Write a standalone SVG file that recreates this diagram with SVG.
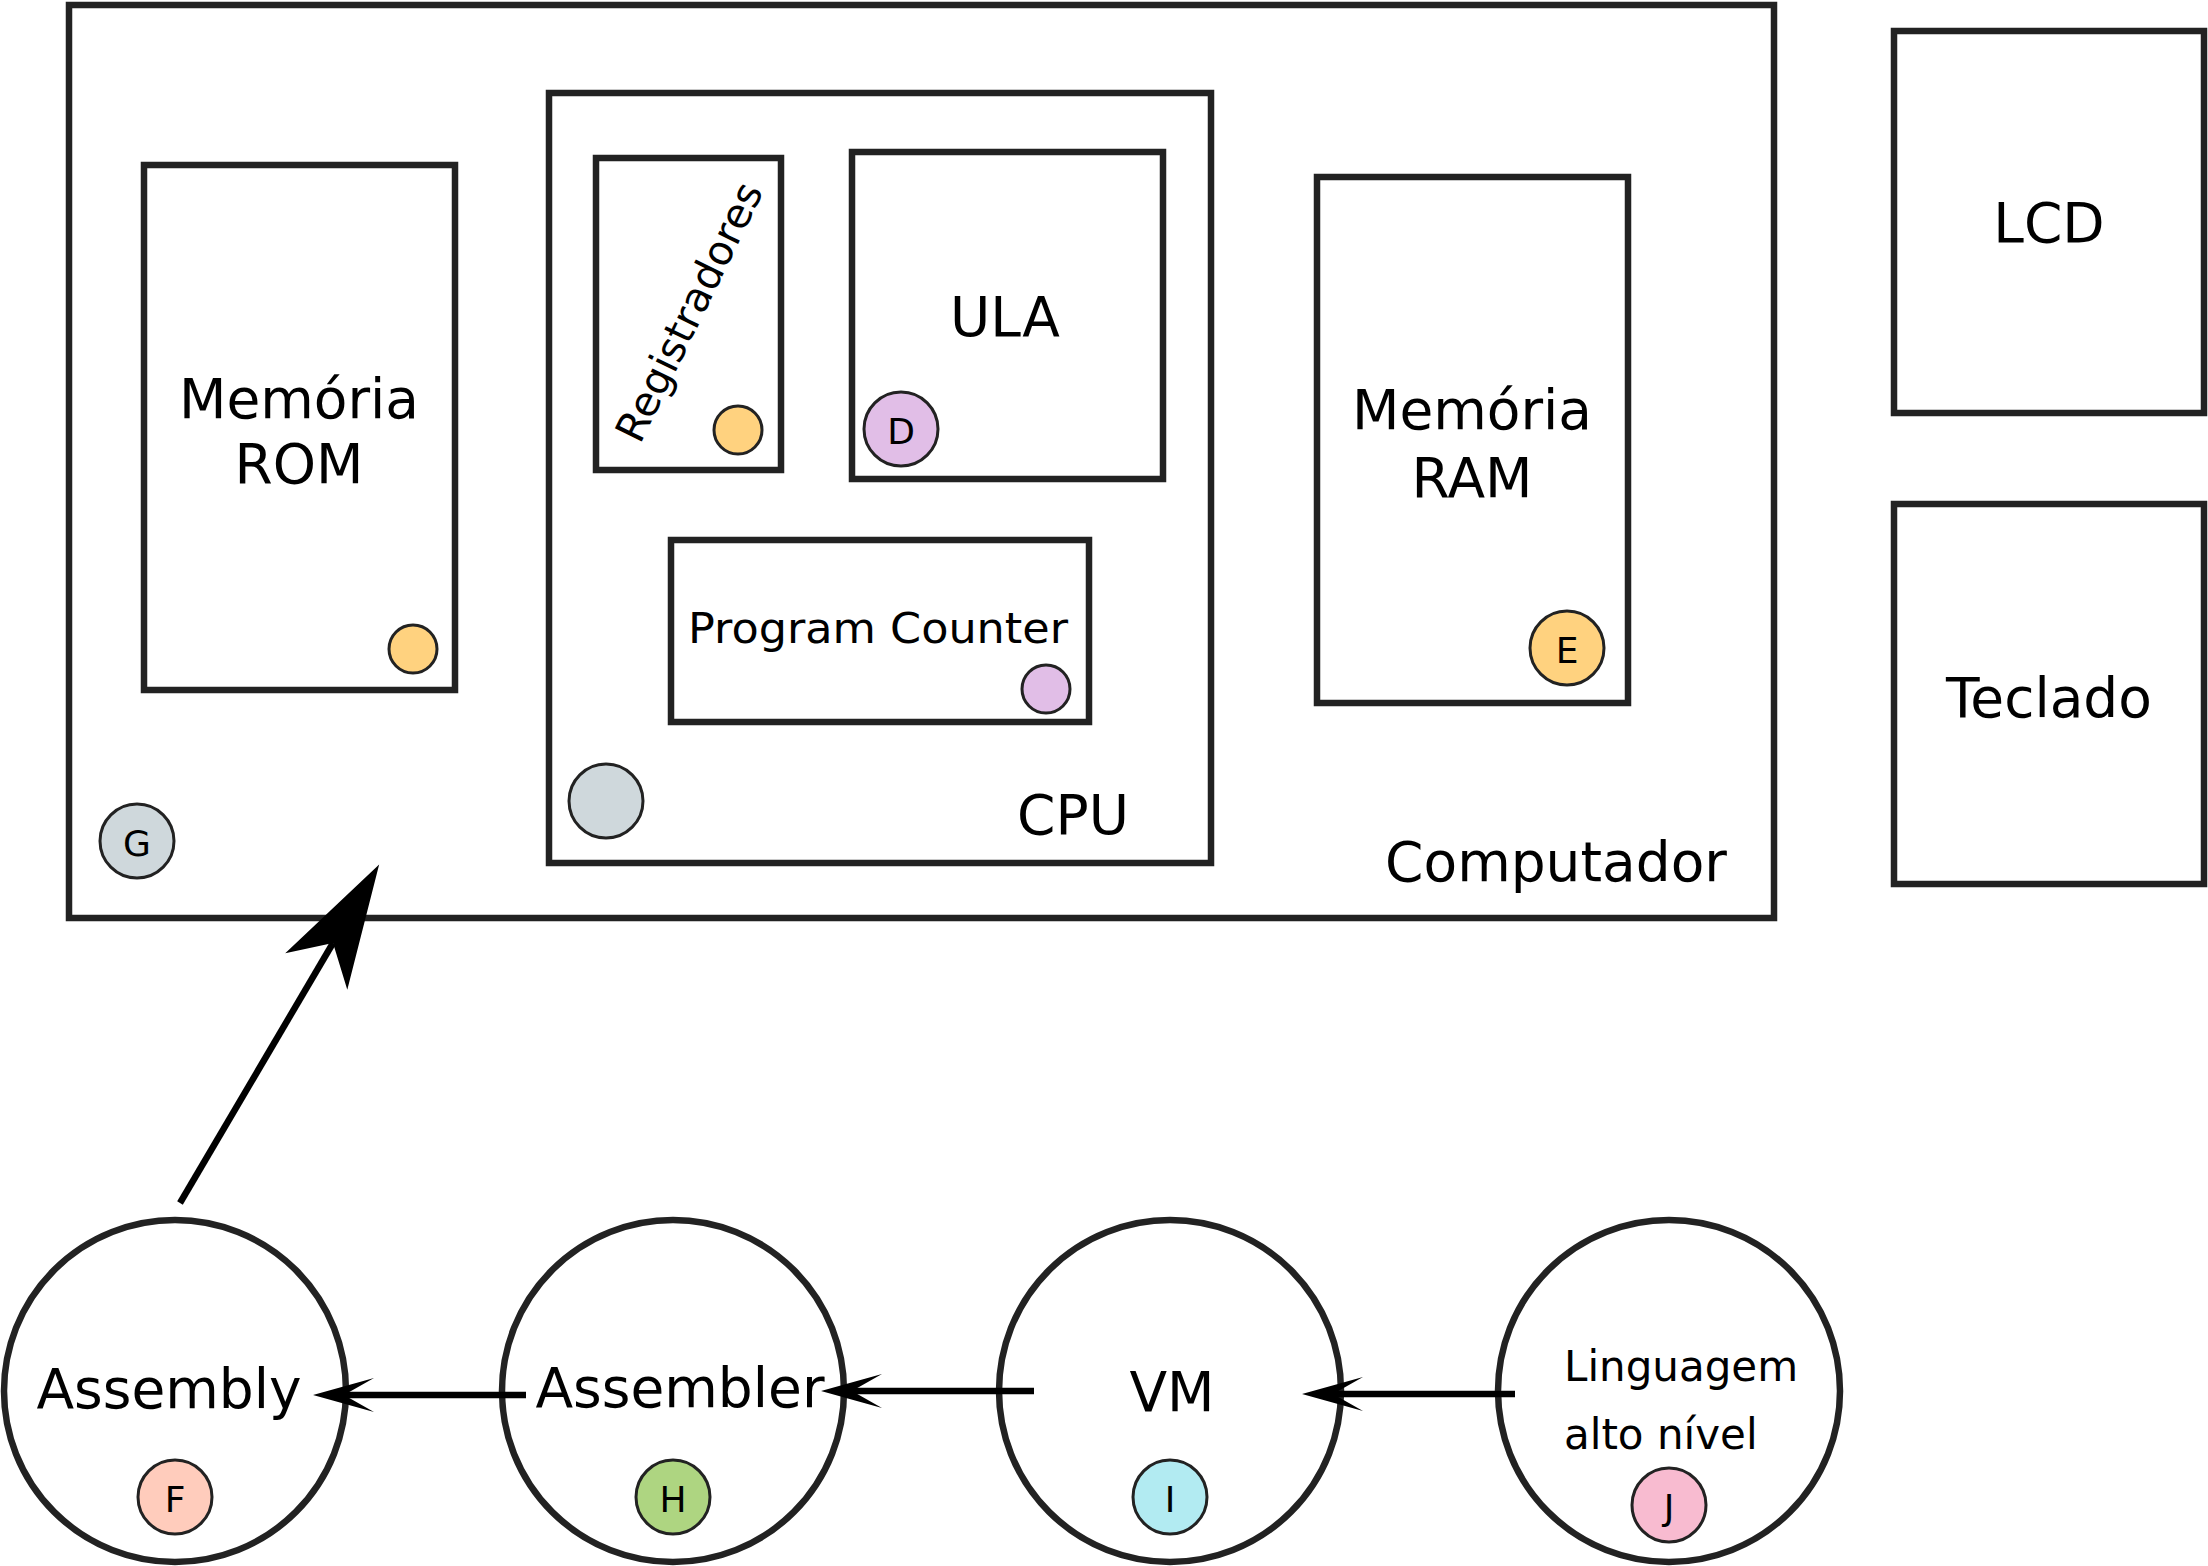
<svg xmlns="http://www.w3.org/2000/svg" width="2208" height="1566" viewBox="0 0 2208 1566">
<style>
.box{fill:#fff;stroke:#222;stroke-width:6.5}
.big{fill:#fff;stroke:#222;stroke-width:6.5}
.dot{stroke:#222;stroke-width:3}
.lbl{font-family:"DejaVu Sans","Liberation Sans",sans-serif;font-size:55px;fill:#000;text-anchor:middle}
.mid{font-family:"DejaVu Sans","Liberation Sans",sans-serif;font-size:42px;fill:#000}
.ltr{font-family:"DejaVu Sans","Liberation Sans",sans-serif;font-size:36px;fill:#000;text-anchor:middle;dominant-baseline:central}
.edge{fill:none;stroke:#000;stroke-width:6.5}
.orange{fill:#ffd27f}.purple{fill:#e1bee7}.grey{fill:#cfd8dc}.salmon{fill:#ffccbc}.green{fill:#aed581}.cyan{fill:#b2ebf2}.pink{fill:#f8bbd0}
</style>
<defs>
<marker id="ah" markerUnits="userSpaceOnUse" markerWidth="140" markerHeight="80" viewBox="-40 -40 140 80" refX="0" refY="0" orient="auto" overflow="visible">
<path d="M31,0 L-30,-17 L0,0 L-30,17 Z" fill="#000"/>
</marker>
<marker id="ahBig" markerUnits="userSpaceOnUse" markerWidth="200" markerHeight="120" viewBox="-60 -60 200 120" refX="0" refY="0" orient="auto" overflow="visible">
<path d="M91,0 L-33,-36 L0,0 L-33,36 Z" fill="#000"/>
</marker>
</defs>

<g id="computador">
<rect class="box" x="69" y="5" width="1705" height="913"/>
<text class="lbl" x="1556" y="881">Computador</text>
<circle class="dot grey" cx="137" cy="841" r="37"/>
<text class="ltr" x="137" y="843">G</text>
</g>

<g id="rom">
<rect class="box" x="144" y="165" width="311" height="525"/>
<text class="lbl" x="299" y="418">Memória</text>
<text class="lbl" x="299" y="483">ROM</text>
<circle class="dot orange" cx="413" cy="649" r="24"/>
</g>

<g id="cpu">
<rect class="box" x="549" y="93" width="662" height="770"/>
<text class="lbl" x="1073" y="834">CPU</text>
<circle class="dot grey" cx="606" cy="801" r="37"/>
</g>

<g id="registradores">
<rect class="box" x="596" y="158" width="185" height="312"/>
<text class="mid" style="font-size:41px" text-anchor="middle" transform="translate(702,318) rotate(-64)">Registradores</text>
<circle class="dot orange" cx="738" cy="430" r="24"/>
</g>

<g id="ula">
<rect class="box" x="852" y="152" width="311" height="327"/>
<text class="lbl" x="1005" y="336">ULA</text>
<circle class="dot purple" cx="901" cy="429" r="37"/>
<text class="ltr" x="901" y="431">D</text>
</g>

<g id="pc">
<rect class="box" x="671" y="540" width="418" height="182"/>
<text class="mid" x="688" y="643" textLength="380" lengthAdjust="spacingAndGlyphs">Program Counter</text>
<circle class="dot purple" cx="1046" cy="689" r="24"/>
</g>

<g id="ram">
<rect class="box" x="1317" y="177" width="311" height="526"/>
<text class="lbl" x="1472" y="429">Memória</text>
<text class="lbl" x="1472" y="497">RAM</text>
<circle class="dot orange" cx="1567" cy="648" r="37"/>
<text class="ltr" x="1567" y="650">E</text>
</g>

<g id="lcd">
<rect class="box" x="1894" y="31" width="310" height="382"/>
<text class="lbl" x="2049" y="242">LCD</text>
</g>

<g id="teclado">
<rect class="box" x="1894" y="504" width="310" height="380"/>
<text class="lbl" x="2049" y="717">Teclado</text>
</g>

<g id="assembly">
<ellipse class="big" cx="175" cy="1391" rx="171" ry="171"/>
<text class="lbl" x="169" y="1408">Assembly</text>
<circle class="dot salmon" cx="175" cy="1497" r="37"/>
<text class="ltr" x="175" y="1499">F</text>
</g>

<g id="assembler">
<ellipse class="big" cx="673" cy="1391" rx="171" ry="171"/>
<text class="lbl" x="680" y="1407">Assembler</text>
<circle class="dot green" cx="673" cy="1497" r="37"/>
<text class="ltr" x="673" y="1499">H</text>
</g>

<g id="vm">
<ellipse class="big" cx="1170" cy="1391" rx="171" ry="171"/>
<text class="lbl" x="1172" y="1411">VM</text>
<circle class="dot cyan" cx="1170" cy="1497" r="37"/>
<text class="ltr" x="1170" y="1499">I</text>
</g>

<g id="linguagem">
<ellipse class="big" cx="1669" cy="1391" rx="171" ry="171"/>
<text class="mid" x="1564" y="1381">Linguagem</text>
<text class="mid" x="1564" y="1449">alto nível</text>
<circle class="dot pink" cx="1669" cy="1505" r="37"/>
<text class="ltr" x="1669" y="1507">J</text>
</g>

<g id="connectors">
<line class="edge" x1="180" y1="1203" x2="333" y2="943" marker-end="url(#ahBig)"/>
<line class="edge" x1="526" y1="1395" x2="344" y2="1395" marker-end="url(#ah)"/>
<line class="edge" x1="1034" y1="1391" x2="852" y2="1391" marker-end="url(#ah)"/>
<line class="edge" x1="1515" y1="1394" x2="1333" y2="1394" marker-end="url(#ah)"/>
</g>
</svg>
